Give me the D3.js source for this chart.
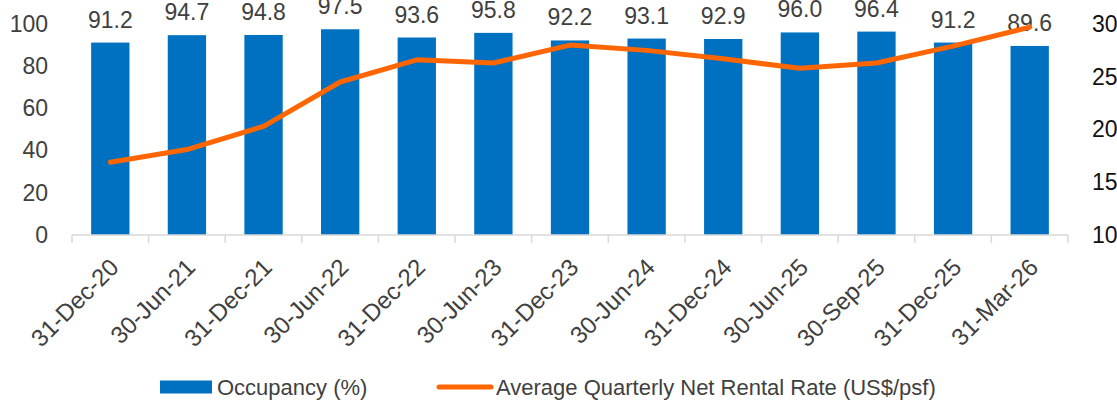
<!DOCTYPE html>
<html>
<head>
<meta charset="utf-8">
<script src="https://cdn.jsdelivr.net/npm/d3@7"></script>
<style>
  body { margin: 0; background: #fff; }
  text { font-family: "Liberation Sans", Arial, sans-serif; }
</style>
</head>
<body>
<div id="chart"></div>
<script>
// DATA
var categories = ["31-Dec-20", "30-Jun-21", "31-Dec-21", "30-Jun-22", "31-Dec-22", "30-Jun-23",
  "31-Dec-23", "30-Jun-24", "31-Dec-24", "30-Jun-25", "30-Sep-25", "31-Dec-25", "31-Mar-26"];
var occupancy = [91.2, 94.7, 94.8, 97.5, 93.6, 95.8, 92.2, 93.1, 92.9, 96.0, 96.4, 91.2, 89.6];
var rentalRate = [16.9, 18.1, 20.3, 24.5, 26.6, 26.3, 28.0, 27.5, 26.7, 25.8, 26.3, 27.9, 29.7];
var leftTicks = [0, 20, 40, 60, 80, 100];
var rightTicks = [10, 15, 20, 25, 30];
var seriesNames = ["Occupancy (%)", "Average Quarterly Net Rental Rate (US$/psf)"];

(function() {
  var width = 1117, height = 401
  var plot = {left: 72, right: 1068, top: 24, bottom: 235}

  var svg = d3.select("#chart").append("svg")
    .attr("width", width)
    .attr("height", height)

  // SCALES
  var x = d3.scaleBand().domain(categories).range([plot.left, plot.right]).paddingInner(0.5).paddingOuter(0.25)
  var xBand = d3.scaleBand().domain(categories).range([plot.left, plot.right])
  var yLeft = d3.scaleLinear().domain([0, 100]).range([plot.bottom, plot.top])
  var yRight = d3.scaleLinear().domain([10, 30]).range([plot.bottom, plot.top])

  // BARS
  svg.selectAll(".bar")
    .data(occupancy)
    .enter().append("rect")
    .attr("class", "bar")
    .attr("x", function(d, i) { return x(categories[i]) })
    .attr("width", x.bandwidth())
    .attr("y", function(d) { return yLeft(d) })
    .attr("height", function(d) { return yLeft(0) - yLeft(d) })
    .attr("fill", "#0070C0")

  // bar value labels (the tallest ones run off the top, as in the source)
  svg.selectAll(".bar-label")
    .data(occupancy)
    .enter().append("text")
    .attr("class", "bar-label")
    .attr("x", function(d, i) { return x(categories[i]) + x.bandwidth() / 2 })
    .attr("y", function(d) { return yLeft(d) - 15 })
    .attr("text-anchor", "middle")
    .attr("font-size", 23)
    .attr("fill", "#404040")
    .text(function(d) { return d.toFixed(1) })

  // X AXIS - ticks sit on the band boundaries, not the band centres
  var gx = svg.append("g")
    .attr("transform", "translate(0," + plot.bottom + ")")
  gx.append("line")
    .attr("x1", plot.left).attr("x2", plot.right)
    .attr("stroke", "#d9d9d9").attr("stroke-width", 1.5)
  var bounds = categories.map(function(c) { return xBand(c) }).concat([plot.right])
  gx.selectAll(".bound")
    .data(bounds)
    .enter().append("line")
    .attr("x1", function(d) { return d }).attr("x2", function(d) { return d })
    .attr("y1", 0).attr("y2", 8)
    .attr("stroke", "#d9d9d9").attr("stroke-width", 1.5)

  svg.selectAll(".x-label")
    .data(categories)
    .enter().append("text")
    .attr("class", "x-label")
    .attr("transform", function(d) {
      return "translate(" + (xBand(d) + xBand.bandwidth() / 2 - 2) + "," + (plot.bottom + 22) + ") rotate(-45)"
    })
    .attr("text-anchor", "end")
    .attr("dy", "0.7em")
    .attr("font-size", 24)
    .attr("fill", "#404040")
    .text(function(d) { return d })

  // Y AXES
  var gl = svg.append("g")
    .attr("transform", "translate(" + (plot.left - 21) + ",0)")
    .call(d3.axisLeft(yLeft).tickValues(leftTicks).tickSize(0))
  gl.select(".domain").remove()
  gl.selectAll("text").attr("font-size", 23).attr("fill", "#404040").attr("font-family", "Liberation Sans, Arial, sans-serif")

  var gr = svg.append("g")
    .attr("transform", "translate(" + (plot.right + 21) + ",0)")
    .call(d3.axisRight(yRight).tickValues(rightTicks).tickSize(0))
  gr.select(".domain").remove()
  gr.selectAll("text").attr("font-size", 23).attr("fill", "#111").attr("font-family", "Liberation Sans, Arial, sans-serif")

  // LINE
  var line = d3.line()
    .x(function(d, i) { return xBand(categories[i]) + xBand.bandwidth() / 2 })
    .y(function(d) { return yRight(d) })

  svg.append("path")
    .datum(rentalRate)
    .attr("d", line)
    .attr("fill", "none")
    .attr("stroke", "#FF6600")
    .attr("stroke-width", 5)
    .attr("stroke-linejoin", "round")
    .attr("stroke-linecap", "round")

  // LEGEND
  var legend = svg.append("g").attr("transform", "translate(0,387)")
  legend.append("rect")
    .attr("x", 160).attr("y", -6.5)
    .attr("width", 52).attr("height", 13)
    .attr("fill", "#0070C0")
  legend.append("text")
    .attr("x", 217).attr("dy", "0.35em")
    .attr("font-size", 22).attr("fill", "#404040")
    .text(seriesNames[0])
  legend.append("line")
    .attr("x1", 439).attr("x2", 491)
    .attr("stroke", "#FF6600").attr("stroke-width", 5).attr("stroke-linecap", "round")
  legend.append("text")
    .attr("x", 496).attr("dy", "0.35em")
    .attr("font-size", 22).attr("fill", "#404040")
    .text(seriesNames[1])
})();
</script>
</body>
</html>
